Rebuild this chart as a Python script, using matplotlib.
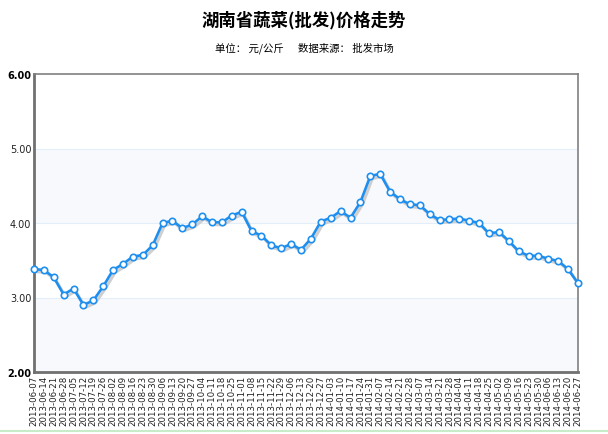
import matplotlib
matplotlib.use("Agg")
import matplotlib.pyplot as plt
import matplotlib.transforms as mtransforms
from matplotlib.lines import Line2D

plt.rcParams["font.family"] = ["Noto Sans CJK SC", "DejaVu Sans"]

dates = [
    "2013-06-07", "2013-06-14", "2013-06-21", "2013-06-28", "2013-07-05", "2013-07-12",
    "2013-07-19", "2013-07-26", "2013-08-02", "2013-08-09", "2013-08-16", "2013-08-23",
    "2013-08-30", "2013-09-06", "2013-09-13", "2013-09-20", "2013-09-27", "2013-10-04",
    "2013-10-11", "2013-10-18", "2013-10-25", "2013-11-01", "2013-11-08", "2013-11-15",
    "2013-11-22", "2013-11-29", "2013-12-06", "2013-12-13", "2013-12-20", "2013-12-27",
    "2014-01-03", "2014-01-10", "2014-01-17", "2014-01-24", "2014-01-31", "2014-02-07",
    "2014-02-14", "2014-02-21", "2014-02-28", "2014-03-07", "2014-03-14", "2014-03-21",
    "2014-03-28", "2014-04-04", "2014-04-11", "2014-04-18", "2014-04-25", "2014-05-02",
    "2014-05-09", "2014-05-16", "2014-05-23", "2014-05-30", "2014-06-06", "2014-06-13",
    "2014-06-20", "2014-06-27",
]
prices = [
    3.38, 3.37, 3.27, 3.04, 3.12, 2.90, 2.96, 3.15, 3.37, 3.45, 3.55, 3.57,
    3.70, 4.00, 4.03, 3.93, 3.98, 4.09, 4.01, 4.01, 4.10, 4.15, 3.89, 3.83,
    3.70, 3.66, 3.72, 3.64, 3.79, 4.02, 4.07, 4.16, 4.07, 4.28, 4.63, 4.66,
    4.42, 4.32, 4.25, 4.24, 4.12, 4.04, 4.05, 4.06, 4.03, 4.00, 3.86, 3.88,
    3.76, 3.62, 3.56, 3.56, 3.52, 3.49, 3.38, 3.19,
]
y_ticks = [2.0, 3.0, 4.0, 5.0, 6.0]

title = "湖南省蔬菜(批发)价格走势"
subtitle = "单位： 元/公斤      数据来源： 批发市场"

fig = plt.figure(figsize=(6.08, 4.35), dpi=100)
ax = fig.add_axes([34 / 608, 1 - 373 / 435, 544 / 608, 298 / 435])

x = list(range(len(dates)))

# 背景の帯とグリッド
for lo, hi in [(2.0, 3.0), (4.0, 5.0)]:
    ax.axhspan(lo, hi, color="#f7f9fd", zorder=0, lw=0)
for v in [3.0, 4.0, 5.0]:
    ax.axhline(v, color="#e4eef8", lw=0.8, zorder=1)

# 影付きの折れ線
shadow = mtransforms.offset_copy(ax.transData, fig=fig, x=2, y=-2.5, units="dots")
ax.plot(x, prices, color="#c4c4c4", lw=2.2, alpha=0.8, transform=shadow, zorder=2,
        solid_joinstyle="round")
ax.plot(x, prices, color="#1f8fef", lw=1.9, zorder=3, marker="o", markersize=4.6,
        markerfacecolor="white", markeredgecolor="#1f8fef", markeredgewidth=1.2,
        clip_on=False)

ax.set_xlim(0, len(dates) - 1)
ax.set_ylim(2.0, 6.0)
ax.set_yticks(y_ticks)
ax.set_yticklabels(["%.2f" % v for v in y_ticks], fontsize=7, color="#222222",
                   family="DejaVu Sans")
for lab in ax.get_yticklabels():
    if lab.get_text() in ("2.00", "6.00"):
        lab.set_fontweight("bold")
        lab.set_color("black")
ax.set_xticks(x)
ax.set_xticklabels(dates, rotation=90, fontsize=6.2, color="#222222", family="DejaVu Sans")
ax.tick_params(length=0, pad=2)

for side in ["left", "bottom"]:
    ax.spines[side].set_color("#707070")
    ax.spines[side].set_linewidth(2.0)
for side in ["top", "right"]:
    ax.spines[side].set_color("#808080")
    ax.spines[side].set_linewidth(1.2)

fig.text(0.5, 1 - 20 / 435, title, ha="center", va="center", fontsize=12.5, fontweight="bold")
fig.text(0.5, 1 - 48 / 435, subtitle, ha="center", va="center", fontsize=7.5)

fig.add_artist(Line2D([0, 1], [1 - 432 / 435] * 2, color="#c8ecc8", lw=1.5,
                      transform=fig.transFigure))

fig.savefig("out.png", dpi=100, facecolor="white")
